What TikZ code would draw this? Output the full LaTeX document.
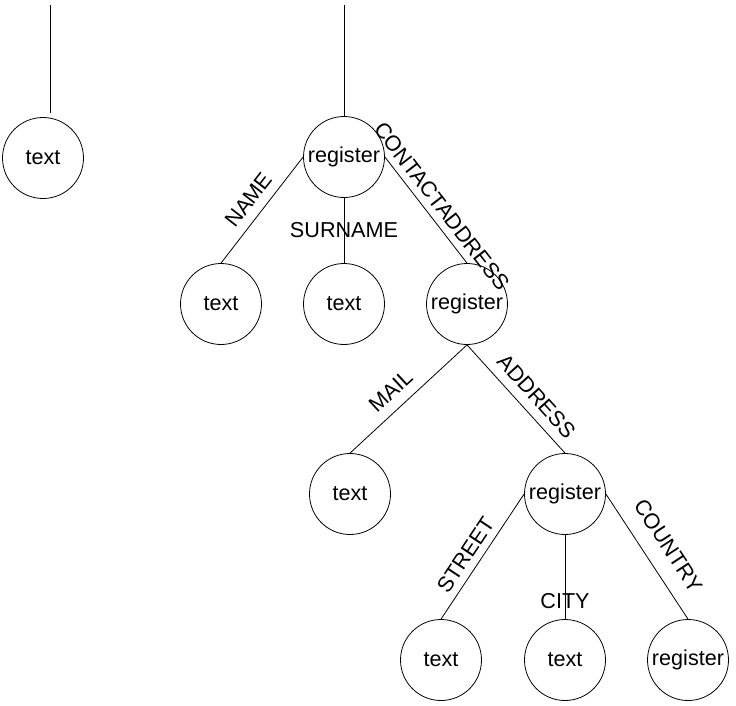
\documentclass[tikz,border=0pt]{standalone}
\usepackage{fontspec}
\setmainfont{Liberation Sans}
\begin{document}
\begin{tikzpicture}[x=1pt, y=-1pt,
	every node/.style={font=\fontsize{21.6}{25}\selectfont},
	knoten/.style={draw, circle, line width=0.8pt, minimum size=81pt, inner sep=0pt},
	kante/.style={line width=0.8pt},
	marke/.style={inner sep=1pt}]
	\useasboundingbox (0,0) rectangle (736,705);
	% Knoten
	\foreach \name/\x/\y/\typ in {text0/43/158/text, reg1/344/157/register,
		text1/221/304/text, text2/344/304/text, reg2/467/304/register,
		text3/350/494/text, reg3/565/494/register,
		text4/441/660/text, text5/565/660/text, reg4/688/660/register}
		\node[knoten] (\name) at (\x, \y) {\typ};
	% Zuleitungen oben
	\coordinate (oben0) at (50, 5);
	\coordinate (unten0) at (50, 113);
	\coordinate (oben1) at (344, 5);
	\draw[kante] (oben0) -- (unten0);
	\draw[kante] (oben1) -- (reg1.north);
	% Kanten erste Ebene
	\draw[kante] (reg1.west) -- node[marke, sloped, above=8pt, pos=0.5] (lname) {NAME} (text1.north);
	\draw[kante] (reg1.south) -- node[marke, pos=0.5] (lsurname) {SURNAME} (text2.north);
	\draw[kante] (reg1.east) -- node[marke, sloped, above=6pt, pos=0.55] (lcontact) {CONTACTADDRESS} (reg2.north);
	% Kanten zweite Ebene
	\draw[kante] (reg2.south) -- node[marke, sloped, above=9pt, pos=0.55] (lmail) {MAIL} (text3.north);
	\draw[kante] (reg2.south) -- node[marke, sloped, above=8pt, pos=0.58] (laddress) {ADDRESS} (reg3.north);
	% Kanten dritte Ebene
	\draw[kante] (reg3.west) -- node[marke, sloped, above=6pt, pos=0.55] (lstreet) {STREET} (text4.north);
	\draw[kante] (reg3.south) -- node[marke, pos=0.78] (lcity) {CITY} (text5.north);
	\draw[kante] (reg3.east) -- node[marke, sloped, above=15pt, pos=0.52] (lcountry) {COUNTRY} (reg4.north);
\end{tikzpicture}
\end{document}
